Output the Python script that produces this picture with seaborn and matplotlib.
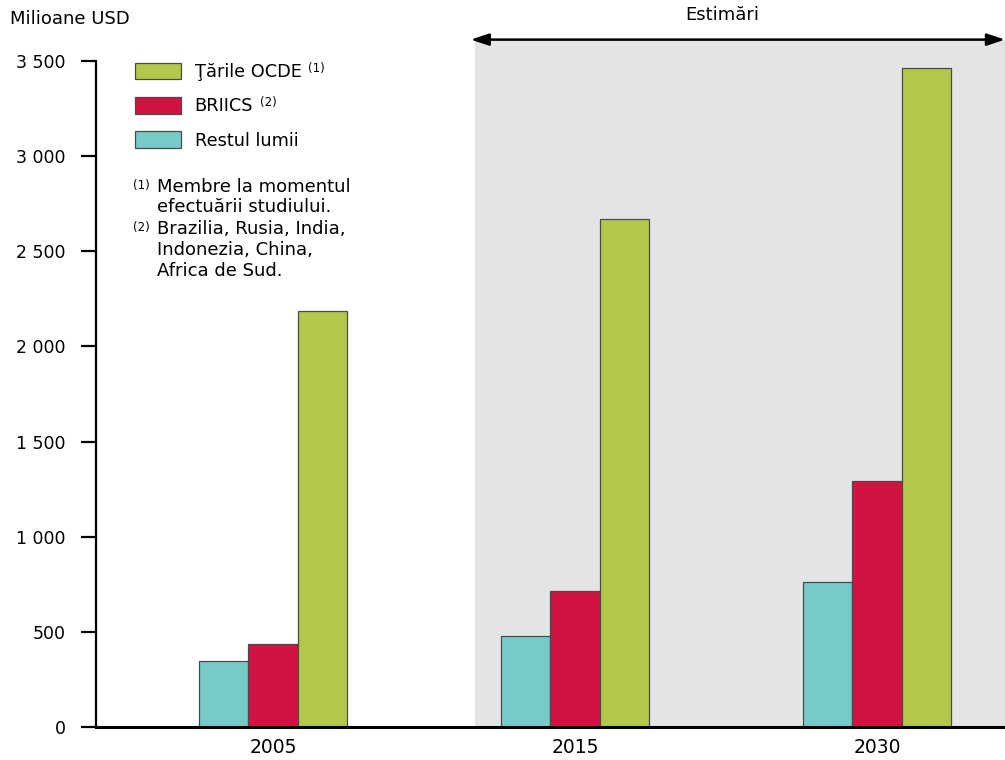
import matplotlib
matplotlib.use('Agg')
import matplotlib.pyplot as plt
import pandas as pd
import seaborn as sns
from matplotlib.patches import Patch

years = ['2005', '2015', '2030']
restul_lumii = [347, 478, 762]
briics = [436, 715, 1293]
ocde = [2186, 2670, 3463]

series_names = ['Restul lumii', 'BRIICS', 'OCDE']
series_colors = {'Restul lumii': '#76cbc9', 'BRIICS': '#d21242', 'OCDE': '#b2c84a'}
legend_labels = {'OCDE': 'Ţările OCDE', 'BRIICS': 'BRIICS', 'Restul lumii': 'Restul lumii'}
legend_notes = {'OCDE': '(1)', 'BRIICS': '(2)', 'Restul lumii': ''}

df = pd.DataFrame({
    'an': years * 3,
    'grup': [s for s in series_names for _ in years],
    'valoare': restul_lumii + briics + ocde,
})

sns.set_theme(style='white')
plt.rcParams['font.family'] = ['DejaVu Sans']
plt.rcParams['text.color'] = 'black'
plt.rcParams['xtick.color'] = 'black'
plt.rcParams['ytick.color'] = 'black'

W, H = 1005, 760
fig = plt.figure(figsize=(W / 100, H / 100), dpi=100)
ax = fig.add_axes([96 / W, 1 - 727 / H, 1 - 96 / W, 687 / H])

ax.axvspan(0.669, 2.5, color='#e3e4e6', zorder=0, lw=0)

sns.barplot(data=df, x='an', y='valoare', hue='grup', order=years,
            hue_order=series_names, palette=series_colors, width=0.49,
            edgecolor='#4a4a4a', linewidth=0.9, saturation=1, ax=ax, zorder=2)

ax.set_xlim(-0.586, 2.424)
ax.set_ylim(0, 3610)
ax.set_yticks(range(0, 3501, 500))
ax.set_yticklabels([f'{v:,}'.replace(',', ' ') for v in range(0, 3501, 500)])
ax.set_xlabel('')
ax.set_ylabel('')

for s in ['top', 'right']:
    ax.spines[s].set_visible(False)
ax.spines['left'].set_bounds(0, 3500)
ax.spines['left'].set_linewidth(1.6)
ax.spines['bottom'].set_linewidth(2.2)
ax.spines['left'].set_color('black')
ax.spines['bottom'].set_color('black')
ax.tick_params(axis='y', length=11, width=1.6, pad=11, labelsize=12.5,
               left=True, color='black')
ax.tick_params(axis='x', length=0, pad=8, labelsize=13.5)

# legend
ax.get_legend().remove()
order = ['OCDE', 'BRIICS', 'Restul lumii']
handles = [Patch(facecolor=series_colors[s], edgecolor='#4a4a4a', linewidth=0.9)
           for s in order]
labels = [legend_labels[s] for s in order]
leg = fig.legend(handles, labels, loc='upper left', bbox_to_anchor=(135 / W, 1 - 63 / H),
                 frameon=False, fontsize=12.8, handlelength=2.6, handleheight=1.05,
                 handletextpad=0.75, labelspacing=0.89, borderpad=0, borderaxespad=0)

# superscript notes next to legend labels
fig.canvas.draw()
for txt, s in zip(leg.get_texts(), order):
    if legend_notes[s]:
        bb = txt.get_window_extent()
        fig.text((bb.x1 + 7) / W, (bb.y0 + bb.height * 0.72) / H, legend_notes[s],
                 fontsize=8.5, va='center')

# footnotes
fig.text(133 / W, 1 - 185 / H, '(1)', fontsize=8.5, va='center')
fig.text(157 / W, 1 - 178 / H, 'Membre la momentul\nefectuării studiului.',
         fontsize=13, va='top', linespacing=1.15)
fig.text(133 / W, 1 - 228 / H, '(2)', fontsize=8.5, va='center')
fig.text(157 / W, 1 - 220 / H, 'Brazilia, Rusia, India,\nIndonezia, China,\nAfrica de Sud.',
         fontsize=13, va='top', linespacing=1.2)

fig.text(10 / W, 1 - 19 / H, 'Milioane USD', fontsize=13, va='center')

# estimates arrow
ax.annotate('', xy=(0.655, 3612), xytext=(2.424, 3612), xycoords='data',
            arrowprops=dict(arrowstyle='<|-|>,head_length=0.9,head_width=0.3',
                            color='black', lw=1.8, shrinkA=0, shrinkB=0),
            annotation_clip=False)
fig.text(722 / W, 1 - 15 / H, 'Estimări', fontsize=13, ha='center', va='center')

fig.savefig('out.png', dpi=100)
